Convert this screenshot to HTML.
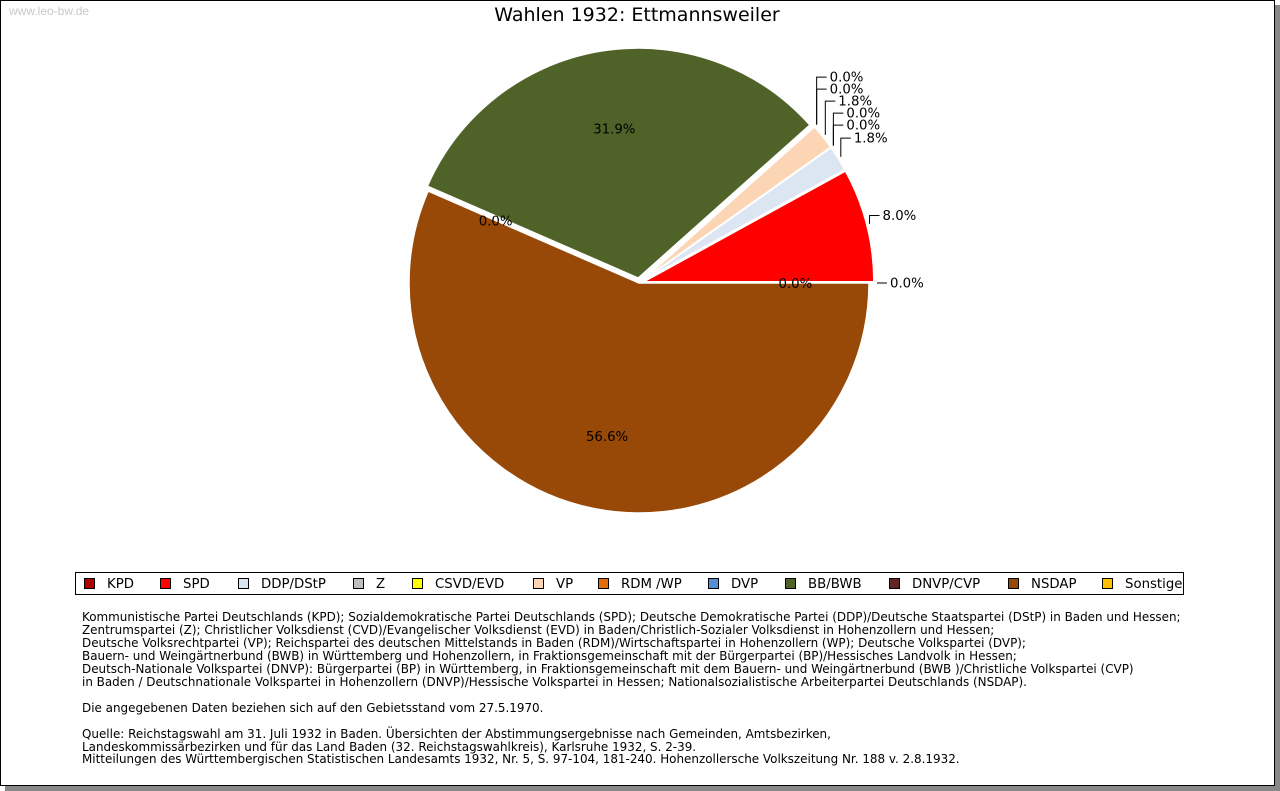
<!DOCTYPE html>
<html><head><meta charset="utf-8">
<style>
html,body{margin:0;padding:0;background:#fff;}
body{width:1280px;height:791px;position:relative;overflow:hidden;font-family:"DejaVu Sans","Liberation Sans",sans-serif;}
#frame{position:absolute;left:0;top:0;width:1273px;height:784px;border:1px solid #000;background:#fff;box-shadow:5px 5px 0 #888;}
#wm{position:absolute;left:9px;top:4px;font-size:12px;color:#c8c8c8;font-family:"Liberation Sans",sans-serif;}
#notes{position:absolute;left:82px;top:611px;font-size:11.95px;line-height:12.95px;color:#000;white-space:pre;}
</style></head><body>
<div id="frame"></div>
<div id="wm">www.leo-bw.de</div>
<svg id="chart" width="1280" height="791" style="position:absolute;left:0;top:0;font-family:'DejaVu Sans',sans-serif">
<text x="637" y="21" text-anchor="middle" font-size="19">Wahlen 1932: Ettmannsweiler</text>
<g id="slices"></g><g id="labels"></g>
<rect x="75.5" y="572.5" width="1108" height="22" fill="#fff" stroke="#000"/>
<g id="legend"></g>
</svg>
<div id="notes">Kommunistische Partei Deutschlands (KPD); Sozialdemokratische Partei Deutschlands (SPD); Deutsche Demokratische Partei (DDP)/Deutsche Staatspartei (DStP) in Baden und Hessen;
Zentrumspartei (Z); Christlicher Volksdienst (CVD)/Evangelischer Volksdienst (EVD) in Baden/Christlich-Sozialer Volksdienst in Hohenzollern und Hessen;
Deutsche Volksrechtpartei (VP); Reichspartei des deutschen Mittelstands in Baden (RDM)/Wirtschaftspartei in Hohenzollern (WP); Deutsche Volkspartei (DVP);
Bauern- und Weingärtnerbund (BWB) in Württemberg und Hohenzollern, in Fraktionsgemeinschaft mit der Bürgerpartei (BP)/Hessisches Landvolk in Hessen;
Deutsch-Nationale Volkspartei (DNVP): Bürgerpartei (BP) in Württemberg, in Fraktionsgemeinschaft mit dem Bauern- und Weingärtnerbund (BWB )/Christliche Volkspartei (CVP)
in Baden / Deutschnationale Volkspartei in Hohenzollern (DNVP)/Hessische Volkspartei in Hessen; Nationalsozialistische Arbeiterpartei Deutschlands (NSDAP).

Die angegebenen Daten beziehen sich auf den Gebietsstand vom 27.5.1970.

Quelle: Reichstagswahl am 31. Juli 1932 in Baden. Übersichten der Abstimmungsergebnisse nach Gemeinden, Amtsbezirken,
Landeskommissärbezirken und für das Land Baden (32. Reichstagswahlkreis), Karlsruhe 1932, S. 2-39.
Mitteilungen des Württembergischen Statistischen Landesamts 1932, Nr. 5, S. 97-104, 181-240. Hohenzollersche Volkszeitung Nr. 188 v. 2.8.1932.</div>
<script>
const parties = ["KPD","SPD","DDP/DStP","Z","CSVD/EVD","VP","RDM /WP","DVP","BB/BWB","DNVP/CVP","NSDAP","Sonstige"];
const values = [0.0, 8.0, 1.8, 0.0, 0.0, 1.8, 0.0, 0.0, 31.9, 0.0, 56.6, 0.0];
const colors = ["#b00000","#ff0000","#dce6f2","#bfbfbf","#ffff00","#fcd5b5","#e46c0a","#558ed5","#4f6228","#632423","#984807","#ffc000"];
const legendX = [84,160,238,353,412,533,598,708,785,889,1008,1102];

const NS="http://www.w3.org/2000/svg";
const cx=639, cy=283, R=230, EXPLODE=5;
const total = values.reduce((a,b)=>a+b,0);
const maxV = Math.max(...values);
function pt(frac, r, ox, oy){const a=frac*2*Math.PI;return [ox+r*Math.cos(a), oy-r*Math.sin(a)];}
const gS=document.getElementById('slices'), gL=document.getElementById('labels'), gG=document.getElementById('legend');
function mk(tag, attrs, parent){const e=document.createElementNS(NS,tag);for(const k in attrs)e.setAttribute(k,attrs[k]);parent.appendChild(e);return e;}
function slug(s){return s.toLowerCase().replace(/[^a-z]+/g,'-');}
let acc=0, prevY=1e9;
values.forEach((v,i)=>{
  const f0=acc/total, f1=(acc+v)/total; acc+=v;
  const mid=(f0+f1)/2;
  const ex = v===maxV ? 0 : EXPLODE;
  const [ox,oy]=pt(mid,ex,cx,cy);
  if(v>0){
    const [x0,y0]=pt(f0,R,ox,oy),[x1,y1]=pt(f1,R,ox,oy);
    const large=(f1-f0)>0.5?1:0;
    const p=mk('path',{d:`M${ox},${oy} L${x0},${y0} A${R},${R} 0 ${large} 0 ${x1},${y1} Z`,fill:colors[i],stroke:'#fff','stroke-width':1.5},gS);
    
    
  }
  const label=v.toFixed(1)+'%';
  const outside = v<10 && i<9;
  if(outside){
    const [ax,ay]=pt(mid,R+3,ox,oy);
    let ly=Math.min(ay-21*Math.min(1,mid*10), prevY-12); prevY=ly;
    mk('polyline',{points:`${ax},${ay} ${ax},${ly} ${ax+10},${ly}`,fill:'none',stroke:'#000','stroke-width':1},gL);
    const t=mk('text',{x:ax+13,y:ly+4.5,'font-size':13.3},gL); t.textContent=label;
    
    
  } else {
    const [lx,ly]=pt(mid,R*0.68,cx,cy);
    const t=mk('text',{x:lx,y:ly+5,'font-size':13.3,'text-anchor':'middle'},gL); t.textContent=label;
    
    
  }
});
parties.forEach((p,i)=>{
  const g=mk('g',{},gG);
  
  
  mk('rect',{x:legendX[i]+0.5,y:578.5,width:10,height:10,fill:colors[i],stroke:'#000','stroke-width':1},g);
  const t=mk('text',{x:legendX[i]+23,y:588,'font-size':13.3},g); t.textContent=p;
});
</script>
</body></html>
